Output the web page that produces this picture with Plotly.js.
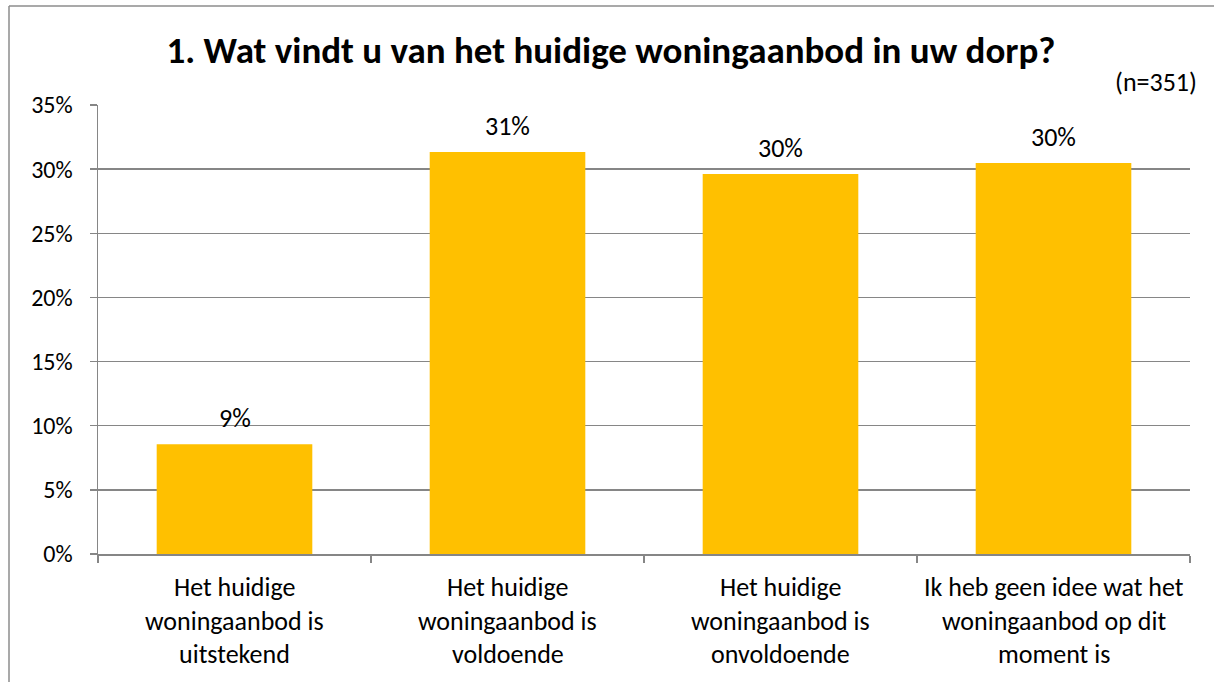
<!DOCTYPE html>
<html>
<head>
<meta charset="utf-8">
<script src="https://cdn.plot.ly/plotly-3.0.1.min.js"></script>
<style>html,body{margin:0;padding:0;background:#fff;}#chart{width:1214px;height:682px;}</style>
</head>
<body>
<div id="chart"></div>
<script>
// Data
const categories = [
  "Het huidige<br>woningaanbod is<br>uitstekend",
  "Het huidige<br>woningaanbod is<br>voldoende",
  "Het huidige<br>woningaanbod is<br>onvoldoende",
  "Ik heb geen idee wat het<br>woningaanbod op dit<br>moment is"
];
const values = [0.0855, 0.3134, 0.2963, 0.3048];
const valueLabels = ["9%", "31%", "30%", "30%"];
const titleText = "1. Wat vindt u van het huidige woningaanbod in uw dorp?";
const noteText = "(n=351)";

const W = 1214, H = 682;
const M = {l: 98, r: 24, t: 105, b: 128};
const pw = W - M.l - M.r, ph = H - M.t - M.b;
const FONT = "Calibri, Carlito, Lato, sans-serif";
const GRID = "#868686";

const annotations = [];
// value labels
categories.forEach((c, i) => {
  annotations.push({
    x: c, y: values[i], xref: "x", yref: "y", text: valueLabels[i],
    showarrow: false, yanchor: "bottom", yshift: 8,
    font: {family: FONT, size: 26, color: "#000"}
  });
});
// category labels, one annotation per line (for line spacing)
categories.forEach((c) => {
  c.split("<br>").forEach((line, j) => {
    annotations.push({
      x: c, y: 0, xref: "x", yref: "y", text: line,
      showarrow: false, yanchor: "middle", yshift: -33 - 33.5 * j,
      font: {family: FONT, size: 26, color: "#000"}
    });
  });
});
annotations.push({
  xref: "paper", yref: "paper", x: (1199 - M.l) / pw, y: (H - M.b - 82) / ph,
  xanchor: "right", yanchor: "middle", text: noteText, showarrow: false,
  font: {family: FONT, size: 26, color: "#000"}
});

const px = (X) => (X - M.l) / pw;
const py = (Y) => (H - M.b - Y) / ph;

const shapes = [
  {type: "line", xref: "paper", yref: "paper", x0: px(9), x1: px(W + 5), y0: py(6), y1: py(6), line: {color: "#8c8c8c", width: 1.5}},
  {type: "line", xref: "paper", yref: "paper", x0: px(9), x1: px(9), y0: py(6), y1: py(H + 5), line: {color: "#8c8c8c", width: 1.5}}
];

const trace = {
  type: "bar", x: categories, y: values,
  marker: {color: "#FFC000", line: {width: 0}},
  hoverinfo: "skip"
};

const layout = {
  width: W, height: H,
  margin: M,
  paper_bgcolor: "#fff", plot_bgcolor: "#fff",
  showlegend: false,
  bargap: 0.43,
  title: {
    text: "<b>" + titleText + "</b>",
    x: 611 / W, xref: "container", xanchor: "center",
    y: 1 - 50 / H, yref: "container", yanchor: "middle",
    font: {family: FONT, size: 37, color: "#000"}
  },
  xaxis: {
    showticklabels: false, tickson: "boundaries", ticks: "outside", ticklen: 7,
    tickcolor: GRID, tickwidth: 1.5, showline: true, linecolor: GRID, linewidth: 1.5,
    showgrid: false, zeroline: false, fixedrange: true
  },
  yaxis: {
    range: [0, 0.35], dtick: 0.05, tickformat: ".0%",
    ticks: "outside", ticklen: 7, tickcolor: GRID, tickwidth: 1.5,
    showline: true, linecolor: GRID, linewidth: 1.5,
    showgrid: true, gridcolor: GRID, gridwidth: 1.5, zeroline: false,
    ticklabelstandoff: 12,
    tickfont: {family: FONT, size: 24, color: "#000"}, fixedrange: true
  },
  annotations: annotations,
  shapes: shapes
};

Plotly.newPlot("chart", [trace], layout, {displayModeBar: false, staticPlot: true});
</script>
</body>
</html>
